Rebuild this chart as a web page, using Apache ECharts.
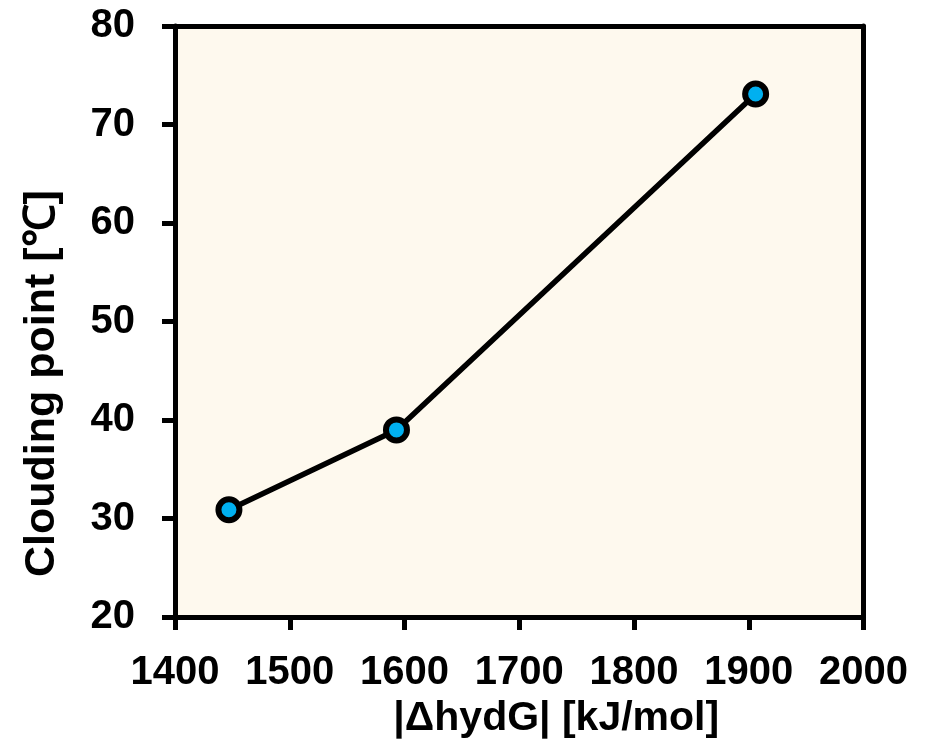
<!DOCTYPE html>
<html>
<head>
<meta charset="utf-8">
<script src="https://cdn.jsdelivr.net/npm/echarts@6/dist/echarts.min.js"></script>
<style>
  html, body { margin: 0; padding: 0; background: #ffffff; }
  #chart { width: 930px; height: 744px; }
</style>
</head>
<body>
<div id="chart"></div>
<script>
// Hydration free energy magnitude vs. clouding point
const hydG = [1447, 1593, 1906];
const cloudPoint = [30.9, 39.0, 73.1];
const xTicks = [1400, 1500, 1600, 1700, 1800, 1900, 2000];
const yTicks = [20, 30, 40, 50, 60, 70, 80];

const FONT = '"Liberation Sans", Arial, sans-serif';

const chart = echarts.init(document.getElementById('chart'), null, { renderer: 'canvas' });

const axisCommon = {
  axisLine: { show: true, onZero: false, lineStyle: { color: '#000', width: 5 } },
  axisTick: { show: true, inside: false, length: 13, lineStyle: { color: '#000', width: 5 } },
  splitLine: { show: false },
  axisLabel: { color: '#000', fontSize: 40, fontWeight: 'bold', fontFamily: FONT, formatter: v => String(v) },
  nameTextStyle: { color: '#000', fontSize: 41, fontWeight: 'bold', fontFamily: FONT }
};

chart.setOption({
  backgroundColor: '#ffffff',
  grid: {
    left: 175, right: 66.5, top: 26, bottom: 125,
    show: true, backgroundColor: '#fef9ee', borderWidth: 0
  },
  xAxis: [{
    ...axisCommon,
    type: 'value',
    min: xTicks[0], max: xTicks[xTicks.length - 1], interval: 100,
    name: '|ΔhydG| [kJ/mol]',
    nameLocation: 'middle',
    nameGap: 80,
    nameTextStyle: { ...axisCommon.nameTextStyle, padding: [0, 0, 0, 74] },
    axisLabel: { ...axisCommon.axisLabel, margin: 36 }
  }, {
    type: 'value', position: 'top',
    min: xTicks[0], max: xTicks[xTicks.length - 1],
    axisLine: { show: true, lineStyle: { color: '#000', width: 5 } },
    axisTick: { show: false }, axisLabel: { show: false }, splitLine: { show: false }
  }],
  yAxis: [{
    ...axisCommon,
    type: 'value',
    min: yTicks[0], max: yTicks[yTicks.length - 1], interval: 10,
    name: 'Clouding point [℃]',
    nameLocation: 'middle',
    nameGap: 111,
    nameTextStyle: { ...axisCommon.nameTextStyle, fontSize: 43, padding: [0, 124, 0, 0] },
    axisLabel: { ...axisCommon.axisLabel, margin: 40 }
  }, {
    type: 'value', position: 'right',
    min: yTicks[0], max: yTicks[yTicks.length - 1],
    axisLine: { show: true, lineStyle: { color: '#000', width: 5 } },
    axisTick: { show: false }, axisLabel: { show: false }, splitLine: { show: false }
  }],
  series: [{
    type: 'line',
    data: hydG.map((x, i) => [x, cloudPoint[i]]),
    lineStyle: { color: '#000', width: 5.5 },
    symbol: 'circle',
    symbolSize: 21,
    itemStyle: { color: '#00b0f0', borderColor: '#000', borderWidth: 6 },
    z: 5
  }],
  animation: false
});
</script>
</body>
</html>
